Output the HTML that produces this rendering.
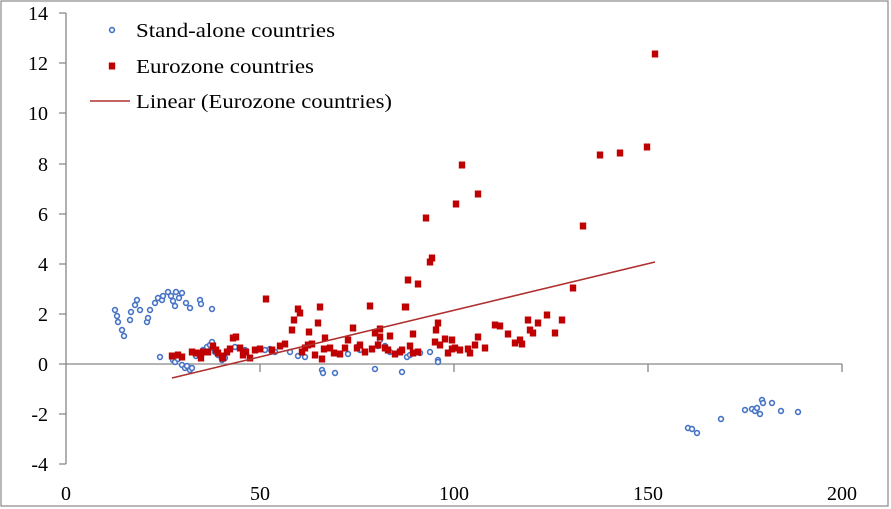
<!DOCTYPE html>
<html><head><meta charset="utf-8"><style>
html,body{margin:0;padding:0;background:#fff}
svg{display:block}
text{font-family:"Liberation Serif",serif;fill:#000}
</style></head><body>
<svg width="891" height="509" viewBox="0 0 891 509" xmlns="http://www.w3.org/2000/svg">
<defs>
<circle id="b" r="2.4" fill="#fff" stroke="#4472C4" stroke-width="1.6"/>
<rect id="r" x="-3.2" y="-3.5" width="6.4" height="7" fill="#C00000"/>
</defs>
<rect x="1" y="1" width="887" height="505" fill="none" stroke="#888" stroke-width="1.2"/>
<g stroke="#868686" stroke-width="1.3" fill="none">
<line x1="66" y1="13" x2="66" y2="464"/>
<line x1="66" y1="364" x2="842" y2="364"/>
<path d="M59 13H66M59 63H66M59 113H66M59 164H66M59 214H66M59 264H66M59 314H66M59 364H66M59 414H66M59 464H66"/>
<path d="M260 364V372M454 364V372M648 364V372M842 364V372"/>
</g>
<g font-size="20" text-anchor="end">
<text x="48" y="20">14</text><text x="48" y="70">12</text><text x="48" y="120">10</text>
<text x="48" y="171">8</text><text x="48" y="221">6</text><text x="48" y="271">4</text>
<text x="48" y="321">2</text><text x="48" y="371">0</text><text x="48" y="421">-2</text><text x="48" y="471">-4</text>
</g>
<g font-size="20" text-anchor="middle">
<text x="66" y="500">0</text><text x="260" y="500">50</text><text x="454" y="500">100</text><text x="648" y="500">150</text><text x="842" y="500">200</text>
</g>
<g font-size="20">
<use href="#b" x="112" y="30"/><text x="136" y="37" textLength="199" lengthAdjust="spacingAndGlyphs">Stand-alone countries</text>
<use href="#r" x="112" y="66"/><text x="136" y="73" textLength="178" lengthAdjust="spacingAndGlyphs">Eurozone countries</text>
<line x1="90" y1="101" x2="130" y2="101" stroke="#B03030" stroke-width="1.6"/><text x="136" y="108" textLength="256" lengthAdjust="spacingAndGlyphs">Linear (Eurozone countries)</text>
</g>
<g>
<use href="#b" x="115" y="310"/><use href="#b" x="117" y="316"/><use href="#b" x="118" y="322"/><use href="#b" x="122" y="330"/><use href="#b" x="124" y="336"/><use href="#b" x="130" y="320"/><use href="#b" x="131" y="312"/><use href="#b" x="135" y="305"/><use href="#b" x="137" y="300"/><use href="#b" x="140" y="310"/><use href="#b" x="147" y="322"/><use href="#b" x="148" y="318"/><use href="#b" x="150" y="310"/><use href="#b" x="155" y="303"/><use href="#b" x="158" y="298"/><use href="#b" x="162" y="300"/><use href="#b" x="163" y="296"/><use href="#b" x="168" y="292"/><use href="#b" x="171" y="296"/><use href="#b" x="173" y="301"/><use href="#b" x="175" y="306"/><use href="#b" x="176" y="292"/><use href="#b" x="179" y="298"/><use href="#b" x="182" y="293"/><use href="#b" x="186" y="303"/><use href="#b" x="190" y="308"/><use href="#b" x="200" y="300"/><use href="#b" x="212" y="309"/><use href="#b" x="201" y="304"/>
<use href="#b" x="160" y="357"/><use href="#b" x="173" y="360"/><use href="#b" x="175" y="362"/><use href="#b" x="178" y="359"/><use href="#b" x="182" y="365"/><use href="#b" x="185" y="368"/><use href="#b" x="187" y="366"/><use href="#b" x="190" y="370"/><use href="#b" x="192" y="368"/><use href="#b" x="196" y="356"/><use href="#b" x="200" y="353"/><use href="#b" x="203" y="350"/><use href="#b" x="207" y="347"/><use href="#b" x="210" y="345"/><use href="#b" x="213" y="348"/><use href="#b" x="215" y="352"/><use href="#b" x="218" y="355"/><use href="#b" x="222" y="360"/><use href="#b" x="225" y="358"/><use href="#b" x="235" y="347"/><use href="#b" x="245" y="350"/><use href="#b" x="270" y="349"/><use href="#b" x="275" y="352"/><use href="#b" x="290" y="352"/><use href="#b" x="298" y="356"/><use href="#b" x="305" y="357"/><use href="#b" x="322" y="370"/><use href="#b" x="323" y="373"/><use href="#b" x="335" y="373"/><use href="#b" x="348" y="354"/><use href="#b" x="357" y="347"/><use href="#b" x="360" y="350"/><use href="#b" x="375" y="369"/><use href="#b" x="378" y="346"/><use href="#b" x="380" y="340"/><use href="#b" x="385" y="346"/><use href="#b" x="390" y="352"/><use href="#b" x="402" y="372"/><use href="#b" x="407" y="357"/><use href="#b" x="410" y="355"/><use href="#b" x="420" y="353"/><use href="#b" x="430" y="352"/><use href="#b" x="438" y="360"/><use href="#b" x="438" y="362"/><use href="#b" x="265" y="350"/><use href="#b" x="206" y="352"/><use href="#b" x="212" y="342"/>
<use href="#b" x="688" y="428"/><use href="#b" x="692" y="429"/><use href="#b" x="697" y="433"/><use href="#b" x="721" y="419"/><use href="#b" x="745" y="410"/><use href="#b" x="752" y="409"/><use href="#b" x="755" y="411"/><use href="#b" x="757" y="408"/><use href="#b" x="760" y="414"/><use href="#b" x="762" y="400"/><use href="#b" x="763" y="403"/><use href="#b" x="772" y="403"/><use href="#b" x="781" y="411"/><use href="#b" x="798" y="412"/>
</g>
<g>
<use href="#r" x="172" y="356"/><use href="#r" x="178" y="355"/><use href="#r" x="182" y="357"/><use href="#r" x="192" y="352"/><use href="#r" x="196" y="353"/><use href="#r" x="200" y="354"/><use href="#r" x="201" y="358"/><use href="#r" x="203" y="352"/><use href="#r" x="208" y="352"/><use href="#r" x="213" y="346"/><use href="#r" x="216" y="350"/><use href="#r" x="218" y="353"/><use href="#r" x="222" y="356"/><use href="#r" x="223" y="358"/><use href="#r" x="227" y="352"/><use href="#r" x="230" y="349"/><use href="#r" x="233" y="338"/><use href="#r" x="236" y="337"/><use href="#r" x="240" y="348"/><use href="#r" x="243" y="355"/><use href="#r" x="246" y="352"/><use href="#r" x="250" y="358"/><use href="#r" x="255" y="350"/><use href="#r" x="260" y="349"/><use href="#r" x="266" y="299"/><use href="#r" x="272" y="350"/><use href="#r" x="280" y="346"/><use href="#r" x="285" y="344"/><use href="#r" x="292" y="330"/><use href="#r" x="294" y="320"/><use href="#r" x="298" y="309"/><use href="#r" x="300" y="313"/><use href="#r" x="302" y="352"/><use href="#r" x="305" y="348"/><use href="#r" x="308" y="345"/><use href="#r" x="309" y="332"/><use href="#r" x="312" y="344"/><use href="#r" x="315" y="355"/><use href="#r" x="318" y="323"/><use href="#r" x="320" y="307"/><use href="#r" x="324" y="349"/><use href="#r" x="322" y="359"/><use href="#r" x="325" y="338"/><use href="#r" x="330" y="348"/><use href="#r" x="334" y="353"/><use href="#r" x="340" y="354"/><use href="#r" x="345" y="348"/><use href="#r" x="348" y="340"/><use href="#r" x="353" y="328"/><use href="#r" x="357" y="348"/><use href="#r" x="360" y="345"/><use href="#r" x="365" y="352"/><use href="#r" x="370" y="306"/><use href="#r" x="372" y="349"/><use href="#r" x="375" y="333"/><use href="#r" x="378" y="345"/><use href="#r" x="380" y="337"/><use href="#r" x="385" y="348"/><use href="#r" x="388" y="350"/><use href="#r" x="390" y="336"/><use href="#r" x="395" y="354"/><use href="#r" x="400" y="352"/><use href="#r" x="402" y="350"/><use href="#r" x="405" y="307"/><use href="#r" x="410" y="346"/><use href="#r" x="413" y="334"/><use href="#r" x="418" y="352"/><use href="#r" x="380" y="329"/><use href="#r" x="413" y="353"/><use href="#r" x="436" y="330"/><use href="#r" x="438" y="323"/><use href="#r" x="440" y="345"/><use href="#r" x="445" y="339"/><use href="#r" x="448" y="353"/><use href="#r" x="452" y="340"/><use href="#r" x="455" y="348"/><use href="#r" x="460" y="350"/><use href="#r" x="468" y="349"/><use href="#r" x="470" y="353"/><use href="#r" x="475" y="345"/><use href="#r" x="478" y="337"/><use href="#r" x="485" y="348"/><use href="#r" x="495" y="325"/><use href="#r" x="500" y="326"/><use href="#r" x="508" y="334"/><use href="#r" x="515" y="343"/><use href="#r" x="520" y="340"/><use href="#r" x="522" y="344"/><use href="#r" x="528" y="320"/><use href="#r" x="530" y="330"/><use href="#r" x="533" y="333"/><use href="#r" x="538" y="323"/><use href="#r" x="547" y="315"/><use href="#r" x="555" y="333"/><use href="#r" x="562" y="320"/><use href="#r" x="573" y="288"/><use href="#r" x="583" y="226"/><use href="#r" x="600" y="155"/><use href="#r" x="620" y="153"/><use href="#r" x="647" y="147"/><use href="#r" x="655" y="54"/><use href="#r" x="478" y="194"/><use href="#r" x="462" y="165"/><use href="#r" x="456" y="204"/><use href="#r" x="426" y="218"/><use href="#r" x="430" y="262"/><use href="#r" x="432" y="258"/><use href="#r" x="418" y="284"/><use href="#r" x="408" y="280"/><use href="#r" x="406" y="307"/><use href="#r" x="435" y="342"/><use href="#r" x="452" y="349"/>
</g>
<line x1="172" y1="378" x2="655" y2="262" stroke="#B03030" stroke-width="1.6"/>
</svg>
</body></html>
